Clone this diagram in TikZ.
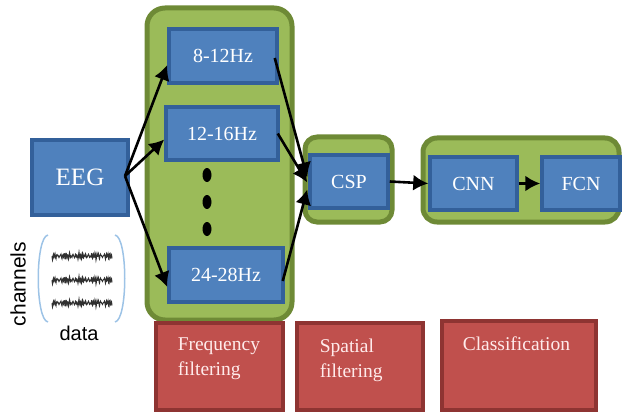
\documentclass[tikz,border=0pt]{standalone}
\usepackage{fontspec}
\setmainfont{Liberation Serif}
\newfontfamily\labelsans{Liberation Sans}
\usetikzlibrary{arrows.meta,calc}

\definecolor{blueFill}{HTML}{4F81BD}
\definecolor{blueEdge}{HTML}{33609A}
\definecolor{greenFill}{HTML}{9BBB59}
\definecolor{greenEdge}{HTML}{6E8A36}
\definecolor{redFill}{HTML}{C0504D}
\definecolor{redEdge}{HTML}{8E3432}
\definecolor{bracketBlue}{HTML}{9DC3E6}
\definecolor{waveGray}{HTML}{303030}

\tikzset{
  stage/.style={draw=greenEdge, fill=greenFill, line width=5pt, rounded corners=#1},
  stage/.default=16pt,
  block/.style={draw=blueEdge, fill=blueFill, line width=3.5pt, text=white,
    font=\fontsize{20}{22}\selectfont, inner sep=0pt},
  tag/.style={draw=redEdge, fill=redFill, line width=3.5pt, text=white!92!red,
    font=\fontsize{19.5}{25}\selectfont, inner sep=0pt},
  flow/.style={line width=2.6pt, -{Latex[length=15pt,width=16pt]}},
  wave/.style={waveGray, line width=1pt},
}

\begin{document}
\begin{tikzpicture}[x=1pt, y=-1pt]
\useasboundingbox (0,0) rectangle (622,412);

% stage frames
\node[stage=18pt, minimum width=145pt, minimum height=312pt] (freqstage) at (219.5,164) {};
\node[stage=12pt, minimum width=87pt, minimum height=85pt] (cspstage) at (348.5,179.5) {};
\node[stage=14pt, minimum width=196pt, minimum height=84pt] (clsstage) at (521,180) {};

% processing blocks
\node[block, minimum width=96pt, minimum height=75pt, font=\fontsize{25}{26}\selectfont] (eeg) at (80,177.5) {EEG};
\node[block, minimum width=108pt, minimum height=54pt] (band1) at (223,56) {8-12Hz};
\node[block, minimum width=112pt, minimum height=53pt] (band2) at (222,133.5) {12-16Hz};
\node[block, minimum width=114pt, minimum height=54pt] (band3) at (226,275) {24-28Hz};
\node[block, minimum width=78pt, minimum height=53pt] (csp) at (349,181.5) {CSP};
\node[block, minimum width=87pt, minimum height=53pt] (cnn) at (473.5,183.5) {CNN};
\node[block, minimum width=78pt, minimum height=53pt] (fcn) at (581,183.5) {FCN};

% vertical ellipsis between bands
\foreach \yy in {175, 202, 229}
  \fill (207,\yy) circle [x radius=4.5pt, y radius=7pt];

% connectors
\coordinate (split) at (125,176);
\draw[flow] (split) -- ($(band1.west)+(0,9)$);
\draw[flow] (split) -- ($(band2.west)+(0,6)$);
\draw[flow] (split) -- ($(band3.west)+(0,12)$);
\draw[flow] ($(band1.east)+(-4,2)$) -- ($(csp.west)+(-1,-4)$);
\draw[flow] ($(band2.east)+(-2,0)$) -- ($(csp.west)+(-1,1)$);
\draw[flow] ($(band3.east)+(-2,6)$) -- ($(csp.west)+(-1,8)$);
\draw[flow] (csp.east) -- (cnn.west);
\draw[flow] (cnn.east) -- (fcn.west);

% channel-by-sample data sketch
\draw[bracketBlue, line width=1.5pt] (48,235) .. controls (35,237) and (35,320) .. (48,322);
\draw[bracketBlue, line width=1.5pt] (115,235) .. controls (128,237) and (128,320) .. (115,322);
\foreach \yy in {256,280,303}
  \draw[wave] plot[domain=0:60, samples=121, smooth]
    ({52+\x}, {\yy + 2.8*sin(\x*157)*cos(\x*41) + 1.5*sin(\x*223)});
\node[font=\labelsans\fontsize{21}{22}\selectfont, rotate=90] (chlabel) at (18,284) {channels};
\node[font=\labelsans\fontsize{20}{21}\selectfont] (datalabel) at (79,333) {data};

% stage captions
\node[tag, minimum width=127pt, minimum height=87pt] (tagfreq) at (219.5,366.5) {};
\node[tag, minimum width=126pt, minimum height=87pt] (tagspat) at (360,366.5) {};
\node[tag, minimum width=154pt, minimum height=89pt] (tagcls) at (519,365.5) {};
\node[tag, draw=none, fill=none, align=left, anchor=north west] (capfreq) at (176,336) {Frequency\\filtering};
\node[tag, draw=none, fill=none, align=left, anchor=north west] (capspat) at (318,337) {Spatial\\filtering};
\node[tag, draw=none, fill=none, anchor=north west] (capcls) at (461,335) {Classification};
\end{tikzpicture}
\end{document}
